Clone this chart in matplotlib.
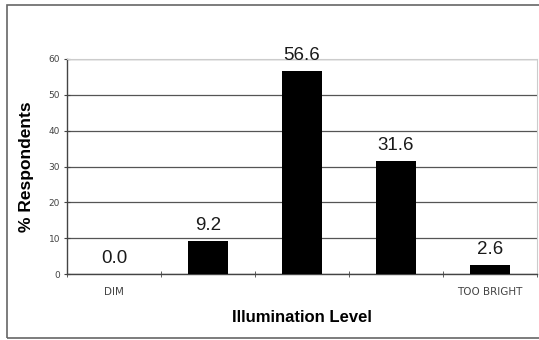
import numpy as np
import matplotlib.pyplot as plt
from matplotlib.patches import Rectangle

categories = ['DIM', '', '', '', 'TOO BRIGHT']
values = [0.0, 9.2, 56.6, 31.6, 2.6]
yticks = [0, 10, 20, 30, 40, 50, 60]

fig = plt.figure(figsize=(5.39, 3.4), dpi=100)
fig.patches.append(Rectangle((7 / 539, 2 / 340), 1.1, 333 / 340, transform=fig.transFigure,
                             fill=False, edgecolor='#666666', linewidth=1.2))
ax = fig.add_axes([67 / 539, 66 / 340, 470 / 539, 215 / 340])

x = np.arange(len(values))
ax.bar(x, values, width=0.425, color='black', zorder=3)
for xi, v in zip(x, values):
    ax.text(xi, v + 3.0, f'{v:.1f}', ha='center', va='baseline', fontsize=13.5,
            family='Liberation Sans', color='#1a1a1a')

ax.set_xlim(-0.5, len(values) - 0.5)
ax.set_ylim(0, 60)
ax.set_yticks(yticks)
ax.set_yticklabels([str(t) for t in yticks], fontsize=6.5, color='#444444')
ax.yaxis.grid(True, color='#555555', linewidth=0.9, zorder=0)

ax.set_xticks(x)
ax.set_xticklabels(categories, fontsize=7.5, color='#444444')
ax.tick_params(axis='x', length=0, pad=9.5)
ax.set_xticks(np.arange(-0.5, len(values)), minor=True)
ax.tick_params(axis='x', which='minor', length=4, direction='inout', color='#444444')
ax.tick_params(axis='y', length=4, direction='inout', color='#444444', pad=3)

for s in ['top', 'right']:
    ax.spines[s].set_color('#cccccc')
    ax.spines[s].set_linewidth(0.8)
for s in ['left', 'bottom']:
    ax.spines[s].set_color('#444444')
    ax.spines[s].set_linewidth(1.0)

ax.set_xlabel('Illumination Level', fontsize=12, fontweight='bold', family='Liberation Sans',
              va='center')
ax.xaxis.set_label_coords(0.5, -(317 - 274) / 215)
ax.set_ylabel('% Respondents', fontsize=12.5, fontweight='bold', family='Liberation Sans',
              va='center')
ax.yaxis.set_label_coords(-(67 - 27) / 470, 0.5)

plt.savefig('out.png', dpi=100)
